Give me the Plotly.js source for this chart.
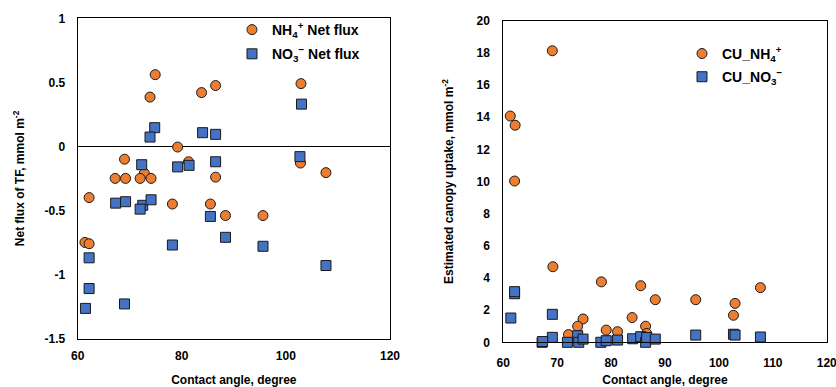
<!DOCTYPE html>
<html>
<head>
<meta charset="utf-8">
<script src="https://cdn.plot.ly/plotly-3.0.1.min.js"></script>
<style>html,body{margin:0;padding:0;background:#fff;}#chart{width:836px;height:387px;}</style>
</head>
<body>
<div id="chart"></div>
<script>
// Left panel: net flux of throughfall vs contact angle
const netNH4_x = [74.9, 73.9, 83.8, 86.5, 102.9, 79.2, 69.0, 81.3, 72.8, 67.2, 69.2, 72.0, 74.1, 86.5, 102.8, 107.7, 62.2, 78.2, 85.5, 88.4, 95.6, 61.4, 62.2];
const netNH4_y = [0.56, 0.385, 0.42, 0.475, 0.49, -0.005, -0.10, -0.12, -0.21, -0.25, -0.25, -0.25, -0.25, -0.24, -0.13, -0.205, -0.40, -0.45, -0.45, -0.54, -0.54, -0.75, -0.76];
const netNO3_x = [74.8, 73.9, 84.0, 86.5, 103.0, 102.7, 72.3, 79.2, 81.4, 86.5, 67.3, 69.2, 72.5, 72.0, 74.1, 85.5, 88.4, 78.2, 95.6, 107.7, 62.2, 62.2, 61.5, 69.0];
const netNO3_y = [0.146, 0.073, 0.107, 0.094, 0.33, -0.08, -0.143, -0.16, -0.148, -0.12, -0.443, -0.432, -0.46, -0.49, -0.417, -0.547, -0.71, -0.77, -0.78, -0.93, -0.87, -1.11, -1.265, -1.23];

// Right panel: estimated canopy uptake vs contact angle
const cuNH4_x = [69.1, 61.3, 62.2, 62.1, 69.2, 78.2, 85.5, 88.2, 95.7, 103.0, 107.7, 102.7, 83.9, 74.8, 73.8, 79.1, 81.2, 86.4, 72.1, 86.6];
const cuNH4_y = [18.13, 14.07, 13.5, 10.03, 4.70, 3.76, 3.52, 2.65, 2.65, 2.42, 3.40, 1.68, 1.54, 1.45, 1.0, 0.76, 0.66, 1.0, 0.48, 0.55];
const cuNO3_x = [61.4, 62.1, 62.1, 69.1, 69.1, 67.2, 67.3, 71.9, 73.8, 74.0, 74.8, 78.1, 79.1, 81.2, 84.0, 85.5, 86.4, 86.6, 88.2, 95.7, 102.7, 103.0, 107.7];
const cuNO3_y = [1.51, 3.02, 3.15, 1.74, 0.31, 0.0, 0.05, 0.0, 0.41, 0.0, 0.2, 0.0, 0.1, 0.14, 0.22, 0.35, 0.0, 0.3, 0.2, 0.45, 0.5, 0.45, 0.33];

// Tick labels
const leftXTicks = [60, 80, 100, 120];
const leftYTicks = [-1.5, -1, -0.5, 0, 0.5, 1];
const leftYTickText = ['-1.5', '-1', '-0.5', '0', '0.5', '1'];
const rightXTicks = [60, 70, 80, 90, 100, 110, 120];
const rightYTicks = [0, 2, 4, 6, 8, 10, 12, 14, 16, 18, 20];

const ORANGE = '#ED7D31';
const BLUE = '#4472C4';
const FONT = 'Liberation Sans, Arial, sans-serif';

function mk(color, symbol) {
  return {color: color, size: 10, symbol: symbol, line: {color: '#1a1a1a', width: 1}};
}

const traces = [
  {x: netNH4_x, y: netNH4_y, type: 'scatter', mode: 'markers', name: 'NH<sub>4</sub><sup>+</sup> Net flux',
   marker: mk(ORANGE, 'circle'), xaxis: 'x', yaxis: 'y', legend: 'legend', legendgroup: 'a', cliponaxis: false},
  {x: netNO3_x, y: netNO3_y, type: 'scatter', mode: 'markers', name: 'NO<sub>3</sub><sup>−</sup> Net flux',
   marker: mk(BLUE, 'square'), xaxis: 'x', yaxis: 'y', legend: 'legend', legendgroup: 'b', cliponaxis: false},
  {x: cuNH4_x, y: cuNH4_y, type: 'scatter', mode: 'markers', name: 'CU_NH<sub>4</sub><sup>+</sup>',
   marker: mk(ORANGE, 'circle'), xaxis: 'x2', yaxis: 'y2', legend: 'legend2', legendgroup: 'c', cliponaxis: false},
  {x: cuNO3_x, y: cuNO3_y, type: 'scatter', mode: 'markers', name: 'CU_NO<sub>3</sub><sup>−</sup>',
   marker: mk(BLUE, 'square'), xaxis: 'x2', yaxis: 'y2', legend: 'legend2', legendgroup: 'd', cliponaxis: false}
];

const axisCommon = {
  showline: true, mirror: true, linecolor: '#000', linewidth: 1,
  showgrid: false, ticks: '', automargin: false, ticklabeloverflow: 'allow',
  tickfont: {family: FONT, size: 12, color: '#000', weight: 'bold'}
};
const titleFont = {family: FONT, size: 12, color: '#000', weight: 'bold'};

const layout = {
  width: 836, height: 387,
  margin: {l: 0, r: 0, t: 0, b: 0},
  paper_bgcolor: '#fff', plot_bgcolor: '#fff',
  font: {family: FONT, color: '#000'},
  showlegend: true,
  xaxis: Object.assign({}, axisCommon, {
    domain: [0.0929, 0.4665], anchor: 'y', range: [60, 120], tickvals: leftXTicks, zeroline: false,
    ticklabelstandoff: 6,
    title: {text: 'Contact angle, degree', font: titleFont}
  }),
  yaxis: Object.assign({}, axisCommon, {
    domain: [0.1253, 0.9527], anchor: 'x', range: [-1.5, 1], tickvals: leftYTicks, ticktext: leftYTickText,
    zeroline: true, zerolinecolor: '#000', zerolinewidth: 1, ticklabelstandoff: 9,
    title: {text: 'Net flux of TF, mmol m<sup>-2</sup>', font: titleFont, standoff: 17}
  }),
  xaxis2: Object.assign({}, axisCommon, {
    domain: [0.602, 0.9889], anchor: 'y2', range: [60, 120], tickvals: rightXTicks, zeroline: false,
    ticklabelstandoff: 9,
    title: {text: 'Contact angle, degree', font: titleFont}
  }),
  yaxis2: Object.assign({}, axisCommon, {
    domain: [0.1155, 0.9465], anchor: 'x2', range: [0, 20], tickvals: rightYTicks, zeroline: false,
    ticklabelstandoff: 10,
    title: {text: 'Estimated canopy uptake, mmol m<sup>-2</sup>', font: titleFont, standoff: 20}
  }),
  legend: {
    x: 0.2775, y: 0.9638, xanchor: 'left', yanchor: 'top', traceorder: 'grouped',
    bgcolor: 'rgba(0,0,0,0)', borderwidth: 0, itemwidth: 30, tracegroupgap: 3,
    font: {family: FONT, size: 14, color: '#000', weight: 'bold'}
  },
  legend2: {
    x: 0.8158, y: 0.902, xanchor: 'left', yanchor: 'top', traceorder: 'grouped',
    bgcolor: 'rgba(0,0,0,0)', borderwidth: 0, itemwidth: 30, tracegroupgap: 2,
    font: {family: FONT, size: 14, color: '#000', weight: 'bold'}
  }
};

Plotly.newPlot('chart', traces, layout, {displayModeBar: false, staticPlot: true});
</script>
</body>
</html>
